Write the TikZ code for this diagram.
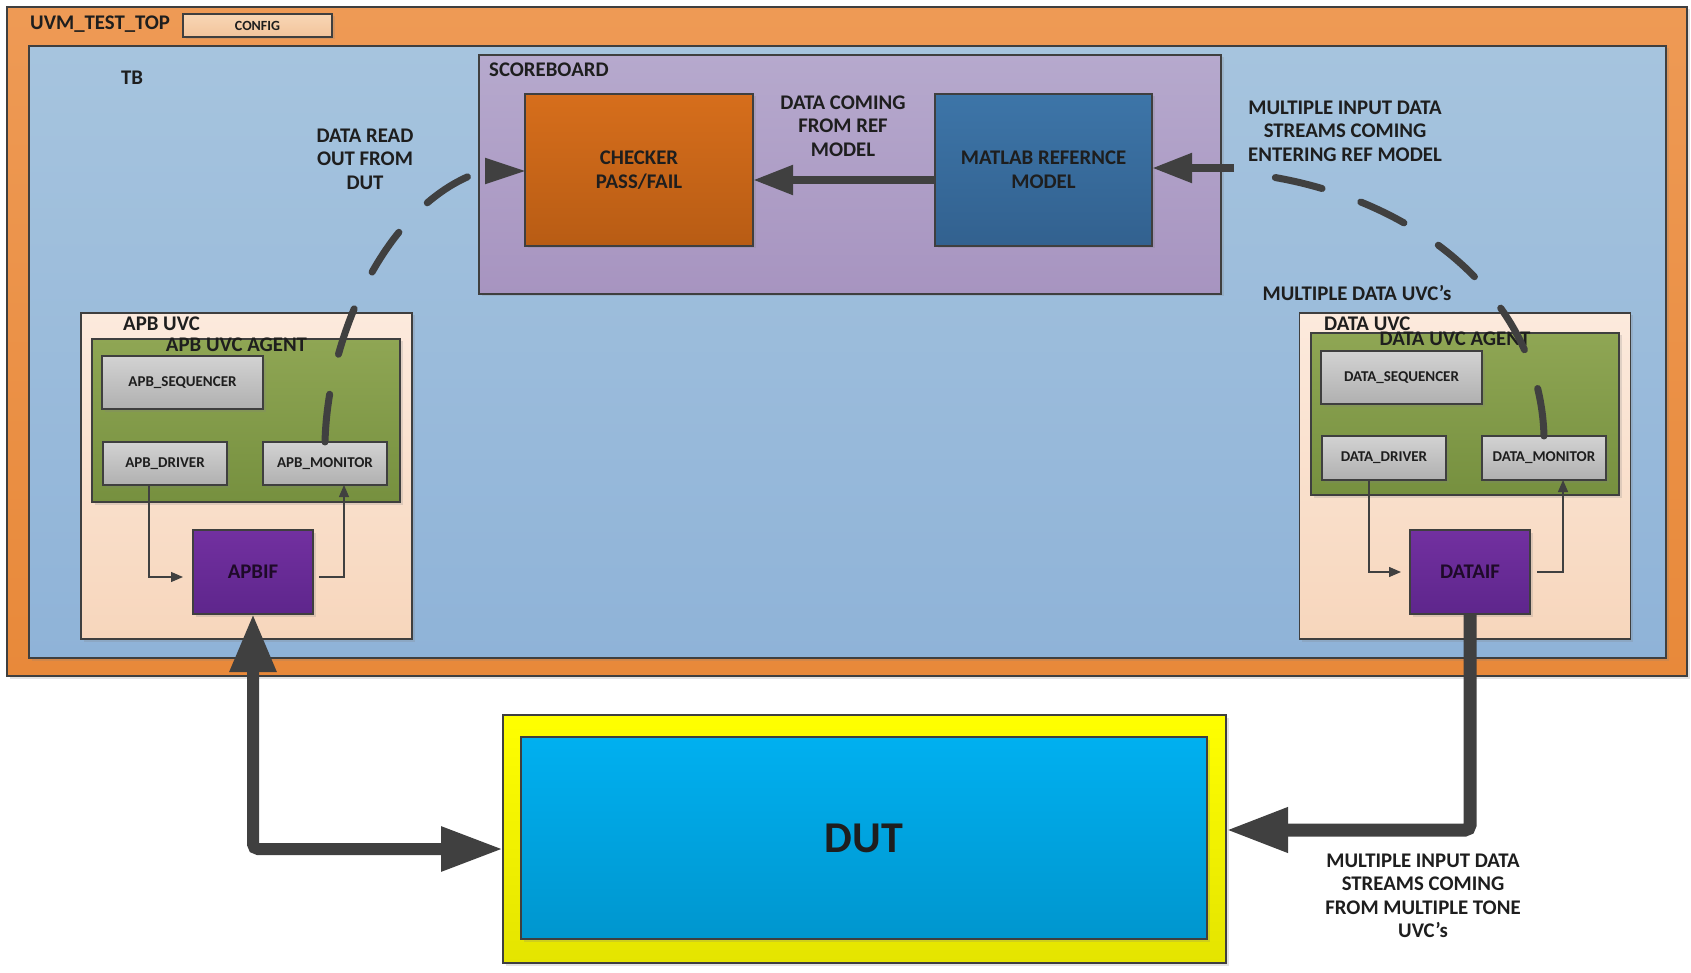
\documentclass[tikz,border=0pt]{standalone}
\usepackage{fontspec}
\setmainfont{Carlito}
\usetikzlibrary{arrows.meta,shadows,calc}
\definecolor{bord}{HTML}{3F3F3F}
\definecolor{arr}{HTML}{404040}
\definecolor{ink}{HTML}{1E1E1E}
\begin{document}
\begin{tikzpicture}[x=1pt,y=-1pt,
  box/.style={draw=bord, line width=1.2pt, inner sep=0pt, outer sep=0pt,
    drop shadow={shadow xshift=2.5pt,shadow yshift=-2.5pt,opacity=0.22}},
  txt/.style={font=\bfseries\fontsize{20.8}{23.5}\selectfont, text=ink, align=center, inner sep=0pt},
  smalltxt/.style={font=\bfseries\fontsize{15}{17}\selectfont, text=ink},
  graybox/.style={box, top color=gray!35, bottom color=gray!62, smalltxt},
  ifbox/.style={box, top color={rgb,255:red,114;green,48;blue,160}, bottom color={rgb,255:red,94;green,38;blue,140},
    font=\bfseries\fontsize{20.8}{23.5}\selectfont, text={rgb,255:red,30;green,10;blue,40}},
  uvcbox/.style={box, top color={rgb,255:red,252;green,234;blue,221}, bottom color={rgb,255:red,247;green,214;blue,188}},
  agentbox/.style={box, top color={rgb,255:red,143;green,166;blue,84}, bottom color={rgb,255:red,118;green,144;blue,63}},
  dashcurve/.style={draw=arr, line width=7pt, line cap=round, dash pattern=on 48pt off 41pt},
  headarrow/.style={draw=arr, line width=8pt, -{Triangle[length=40pt,width=28pt]}},
  thinarrow/.style={draw=arr, line width=1.3pt, -{Triangle[length=12pt,width=10pt]}},
  bigline/.style={draw=arr, line width=12pt, rounded corners=5pt}
]
\useasboundingbox (0,0) rectangle (1691,973);

% outer containers
\node[box, minimum width=1680pt, minimum height=669pt,
  top color={rgb,255:red,238;green,154;blue,85}, bottom color={rgb,255:red,232;green,137;blue,58}] (top) at (847,341.5) {};
\node[box, minimum width=1637pt, minimum height=612pt,
  top color={rgb,255:red,166;green,196;blue,222}, bottom color={rgb,255:red,143;green,179;blue,216}] (tb) at (847.5,352) {};
\node[box, minimum width=149pt, minimum height=23pt,
  top color={rgb,255:red,248;green,214;blue,180}, bottom color={rgb,255:red,242;green,196;blue,156},
  font=\bfseries\fontsize{14}{16}\selectfont, text=ink] (config) at (257.5,25.5) {CONFIG};
\node[txt, anchor=west] (uvmtop) at (30,24) {UVM\_TEST\_TOP};
\node[txt] (tblbl) at (132,78) {TB};

% scoreboard
\node[box, minimum width=742pt, minimum height=239pt,
  top color={rgb,255:red,182;green,169;blue,205}, bottom color={rgb,255:red,167;green,148;blue,192}] (sb) at (850,174.5) {};
\node[txt, anchor=west] (sblbl) at (489,70) {SCOREBOARD};
\node[box, minimum width=228pt, minimum height=152pt,
  top color={rgb,255:red,214;green,110;blue,28}, bottom color={rgb,255:red,184;green,92;blue,20}, txt] (checker) at (639,170) {CHECKER\\PASS/FAIL};
\node[box, minimum width=217pt, minimum height=152pt,
  top color={rgb,255:red,61;green,117;blue,168}, bottom color={rgb,255:red,50;green,97;blue,143}, txt] (matlab) at (1043.5,170) {MATLAB REFERNCE\\MODEL};
\node[txt] (dcl) at (843,126) {DATA COMING\\FROM REF\\MODEL};

% APB UVC
\node[uvcbox, minimum width=331pt, minimum height=326pt] (apbuvc) at (246.5,476) {};
\node[txt, anchor=west] (apbuvclbl) at (123,324) {APB UVC};
\node[agentbox, minimum width=308pt, minimum height=163pt] (apbagent) at (246,420.5) {};
\node[graybox, minimum width=161pt, minimum height=53pt] (apbseq) at (182.5,382.5) {APB\_SEQUENCER};
\node[graybox, minimum width=124pt, minimum height=43pt] (apbdrv) at (165,463.5) {APB\_DRIVER};
\node[graybox, minimum width=124pt, minimum height=43pt] (apbmon) at (325,463.5) {APB\_MONITOR};
\node[txt] (apbagentlbl) at (236.5,345) {APB UVC AGENT};
\node[ifbox, minimum width=120pt, minimum height=84pt] (apbif) at (253,572) {APBIF};

% DATA UVC
\node[uvcbox, minimum width=331pt, minimum height=326pt] (datauvc) at (1465,476) {};
\node[txt, anchor=west] (datauvclbl) at (1324,324) {DATA UVC};
\node[agentbox, minimum width=308pt, minimum height=162pt] (dataagent) at (1465,414) {};
\node[graybox, minimum width=161pt, minimum height=53pt] (dataseq) at (1401.5,377.5) {DATA\_SEQUENCER};
\node[graybox, minimum width=124pt, minimum height=44pt] (datadrv) at (1384,458) {DATA\_DRIVER};
\node[graybox, minimum width=124pt, minimum height=44pt] (datamon) at (1544,458) {DATA\_MONITOR};
\node[txt] (dataagentlbl) at (1455,339) {DATA UVC AGENT};
\node[ifbox, minimum width=120pt, minimum height=84pt] (dataif) at (1470,572) {DATAIF};
\node[txt] (multuvc) at (1357,293) {MULTIPLE DATA UVC’s};

% DUT
\node[box, minimum width=723pt, minimum height=248pt,
  top color={rgb,255:red,255;green,255;blue,0}, bottom color={rgb,255:red,228;green,228;blue,0}] (dut) at (864.5,839) {};
\node[box, minimum width=686pt, minimum height=202pt,
  top color={rgb,255:red,0;green,176;blue,240}, bottom color={rgb,255:red,0;green,150;blue,206},
  font=\bfseries\fontsize{44}{48}\selectfont, text=ink] (dutin) at (864,838) {DUT};

% labels
\node[txt] (readlbl) at (365,159) {DATA READ\\OUT FROM\\DUT};
\node[txt] (inlbl) at (1345,131) {MULTIPLE INPUT DATA\\STREAMS COMING\\ENTERING REF MODEL};
\node[txt] (botlbl) at (1423,896) {MULTIPLE INPUT DATA\\STREAMS COMING\\FROM MULTIPLE TONE\\UVC’s};

% connectors inside scoreboard
\draw[headarrow] ([yshift=-10pt]matlab.west) -- ([yshift=-10pt]checker.east);
\coordinate (lend) at (483,171);
\coordinate (lhead) at (486,171);
\coordinate (rstart) at (1266,176);
\coordinate (rarr) at (1234,168);
\draw[dashcurve] (apbmon.north) .. controls (328,330) and (390,200) .. (lend);
\draw[draw=arr, line width=2pt, -{Triangle[length=40pt,width=26pt]}] (lhead) -- ([yshift=-1pt]checker.west);
\draw[dashcurve] (datamon.north) .. controls (1540,300) and (1420,200) .. (rstart);
\draw[headarrow] (rarr) -- ([yshift=2pt]matlab.east);

% thin arrows
\draw[thinarrow] ([xshift=-16pt]apbdrv.south) |- ([xshift=-10pt,yshift=-5pt]apbif.west);
\draw[thinarrow] ([xshift=6pt,yshift=-5pt]apbif.east) -| ([xshift=19pt]apbmon.south);
\draw[thinarrow] ([xshift=-15pt]datadrv.south) |- ([xshift=-9pt]dataif.west);
\draw[thinarrow] ([xshift=7pt]dataif.east) -| ([xshift=19pt]datamon.south);

% DUT connections
\draw[bigline, {Triangle[length=58pt,width=44pt]}-{Triangle[length=62pt,width=42pt]}] (apbif.south) |- ($(dut.west)+(0,10)$);
\draw[bigline, line width=13pt, -{Triangle[length=62pt,width=42pt]}] (dataif.south) |- ($(dut.east)+(0,-9)$);
\end{tikzpicture}
\end{document}
